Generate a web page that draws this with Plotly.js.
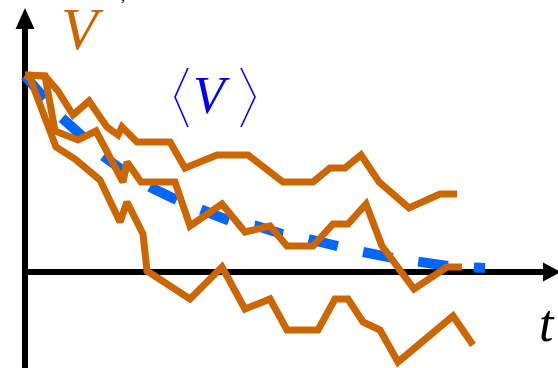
<!DOCTYPE html>
<html>
<head>
<meta charset="utf-8">
<script src="https://cdn.plot.ly/plotly-3.0.1.min.js"></script>
<style>html,body{margin:0;padding:0;background:#fff;}#chart{width:558px;height:368px;}</style>
</head>
<body>
<div id="chart"></div>
<script>
// Sample paths V(t) (three realisations)
const t1 = [0, 2, 3.3, 4.8, 6.4, 8.2, 9.3, 9.7, 11.2, 14.5, 16, 19.2, 22.3, 25.8, 28.8, 30.5, 32, 33.6, 35.4, 38.4, 41.5, 43.2];
const v1 = [19.7, 19.6, 18.1, 15.7, 17.1, 14.5, 13.7, 14.5, 13, 13, 10.4, 11.7, 11.7, 9, 9, 10.4, 10.4, 11.7, 9, 6.4, 7.8, 7.8];

const t2 = [0, 2, 3, 5.3, 7.1, 9.8, 10.2, 11.6, 15, 16.5, 19.7, 22, 24.5, 26.2, 28.8, 30.8, 32.3, 34.1, 35.7, 38.9, 42.2, 43.7];
const v2 = [19.7, 19.6, 14.1, 13.2, 14.1, 9, 11, 9, 9, 4.6, 6.8, 4, 4.6, 2.6, 2.6, 4.8, 4.8, 6.8, 2.6, -1.7, 0.5, 0.5];

const t3 = [0, 0.5, 3.1, 5, 7.5, 9.5, 10.2, 11.8, 12.2, 16.5, 19.7, 22, 24.5, 26.2, 29.3, 31, 32.3, 33.8, 35.5, 37.3, 42.8, 44.8];
const v3 = [19.7, 19.4, 12.5, 11.3, 9.2, 5, 7, 3.8, 0.1, -2.7, 0.5, -3.7, -2.7, -5.8, -5.8, -2.7, -2.7, -5, -5.8, -9, -4.4, -7.3];

// Mean <V>(t)
const tMean = [0, 2, 3.7, 5.7, 7.8, 10, 12.5, 15.2, 17.7, 20.5, 23.2, 25.7, 28.3, 31.5, 33.8, 36.8, 39.3, 42.3, 46];
const vMean = [19.6, 17.4, 15.4, 13.6, 11.6, 10, 8.5, 7.2, 6.3, 5.1, 4.6, 3.8, 3.3, 2.4, 2, 1.4, 1, 0.6, 0.4];

const ORANGE = '#CC6600';
const BLUE = '#0066FF';
const LABEL_BLUE = '#0000FF';

const pathLine = (x, y) => ({
  x: x, y: y, type: 'scatter', mode: 'lines', hoverinfo: 'skip',
  line: {color: ORANGE, width: 7, shape: 'linear'}
});

const data = [
  {x: tMean, y: vMean, type: 'scatter', mode: 'lines', hoverinfo: 'skip',
   line: {color: BLUE, width: 10, dash: '30px,26px'}},
  pathLine(t1, v1),
  pathLine(t2, v2),
  pathLine(t3, v3)
];

const layout = {
  width: 558, height: 368,
  margin: {l: 0, r: 0, t: 0, b: 0, pad: 0},
  paper_bgcolor: '#ffffff', plot_bgcolor: '#ffffff',
  showlegend: false,
  xaxis: {range: [-2.5, 53.3], visible: false, fixedrange: true},
  yaxis: {range: [-9.6, 27.2], visible: false, fixedrange: true},
  shapes: [
    // vertical axis
    {type: 'line', xref: 'x', yref: 'y', x0: 0, x1: 0, y0: -9.6, y1: 24.8, layer: 'below',
     line: {color: '#000', width: 6}},
    {type: 'path', xref: 'x', yref: 'y', path: 'M 0 26.4 L -0.95 24.3 L 0.95 24.3 Z', layer: 'below',
     fillcolor: '#000', line: {color: '#000', width: 0}},
    // horizontal axis
    {type: 'line', xref: 'x', yref: 'y', x0: -0.3, x1: 52.2, y0: 0, y1: 0, layer: 'below',
     line: {color: '#000', width: 6}},
    {type: 'path', xref: 'x', yref: 'y', path: 'M 53.6 0 L 51.8 0.95 L 51.8 -0.95 Z', layer: 'below',
     fillcolor: '#000', line: {color: '#000', width: 0}},
    // angle brackets around <V>
    {type: 'path', xref: 'paper', yref: 'paper',
     path: 'M ' + (188/558) + ' ' + (1-68/368) + ' L ' + (175/558) + ' ' + (1-97/368) + ' L ' + (188/558) + ' ' + (1-127/368),
     line: {color: LABEL_BLUE, width: 1.6}},
    {type: 'path', xref: 'paper', yref: 'paper',
     path: 'M ' + (241/558) + ' ' + (1-68/368) + ' L ' + (255/558) + ' ' + (1-97/368) + ' L ' + (241/558) + ' ' + (1-127/368),
     line: {color: LABEL_BLUE, width: 1.6}}
  ],
  annotations: [
    {text: '<i>V</i>', xref: 'paper', yref: 'paper', x: 82/558, y: 1 - 29/368,
     xanchor: 'center', yanchor: 'middle', showarrow: false,
     font: {family: 'Liberation Serif, DejaVu Serif, serif', size: 60, color: ORANGE}},
    {text: '<i>V</i>', xref: 'paper', yref: 'paper', x: 211/558, y: 1 - 95/368,
     xanchor: 'center', yanchor: 'middle', showarrow: false,
     font: {family: 'Liberation Serif, DejaVu Serif, serif', size: 52, color: LABEL_BLUE}},
    {text: '<i>t</i>', xref: 'paper', yref: 'paper', x: 547/558, y: 1 - 323/368,
     xanchor: 'center', yanchor: 'middle', showarrow: false,
     font: {family: 'Liberation Serif, DejaVu Serif, serif', size: 52, color: '#000'}},
    {text: '<i>,</i>', xref: 'paper', yref: 'paper', x: 123/558, y: 1 + 4/368,
     xanchor: 'center', yanchor: 'middle', showarrow: false,
     font: {family: 'Liberation Serif, DejaVu Serif, serif', size: 16, color: '#000'}}
  ]
};

Plotly.newPlot('chart', data, layout, {staticPlot: true, displayModeBar: false});
</script>
</body>
</html>
